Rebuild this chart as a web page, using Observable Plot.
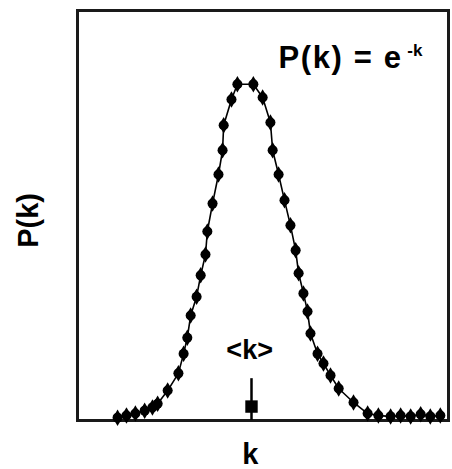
<!DOCTYPE html>
<html>
<head>
<meta charset="utf-8">
<script src="https://cdn.jsdelivr.net/npm/d3@7"></script>
<script src="https://cdn.jsdelivr.net/npm/@observablehq/plot@0.6"></script>
<style>
  html, body { margin: 0; padding: 0; background: #fff; }
  #chart { width: 452px; height: 469px; }
</style>
</head>
<body>
<div id="chart"></div>
<script>
// Degree k (arbitrary units 0–100) and P(k) (arbitrary units 0–100)
const kValues = [10.8, 13.2, 15.6, 18.1, 20.2, 21.6, 24.3, 27.2, 28.6, 29.6, 30.5, 32.1, 33.2, 34.5, 35.0, 36.4, 38.0, 39.1, 39.4, 41.5, 43.1, 47.4, 49.9, 52.0, 52.6, 54.2, 55.8, 57.4, 58.8, 59.6, 60.9, 62.0, 62.8, 64.7, 66.3, 68.2, 70.4, 74.4, 78.2, 81.1, 84.4, 87.1, 89.8, 92.5, 95.1, 97.8];
const pValues = [0.7, 1.2, 1.7, 2.4, 3.2, 4.1, 7.3, 11.5, 16.3, 20.2, 25.6, 30.2, 35.4, 40.5, 46.1, 52.9, 60.0, 65.9, 72.0, 78.3, 82.0, 82.0, 78.8, 72.7, 65.9, 60.0, 53.7, 47.6, 41.5, 35.9, 31.0, 26.6, 21.2, 16.3, 13.9, 11.0, 7.8, 4.4, 1.7, 1.2, 1.0, 1.2, 1.0, 1.5, 1.0, 1.2];

// mean degree marker
const meanK = [46.9];
const meanArrowTop = [10.2];
const meanMarkY = [3.4];

// labels
const formulaMain = ["P(k) = e"];
const formulaSup = ["-k"];
const meanLabel = ["<k>"];
const xLabel = ["k"];
const yLabel = ["P(k)"];

const points = kValues.map((k, i) => ({k, p: pValues[i]}));
const font = "'Liberation Sans', Arial, Helvetica, sans-serif";

const chart = Plot.plot({
  width: 452,
  height: 469,
  marginLeft: 77,
  marginRight: 4,
  marginTop: 10,
  marginBottom: 49,
  style: {fontFamily: font, background: "#fff", color: "#000"},
  x: {domain: [0, 100], axis: null},
  y: {domain: [0, 100], axis: null},
  marks: [
    Plot.frame({stroke: "#1a1a1a", strokeWidth: 3}),
    Plot.line(points, {x: "k", y: "p", stroke: "#000", strokeWidth: 1.6}),
    Plot.dot(points, {x: "k", y: "p", symbol: "diamond", r: 5, fill: "#000", stroke: "none"}),
    Plot.dot(points, {x: "k", y: "p", symbol: "circle", r: 5, fill: "#000", stroke: "none"}),
    Plot.dot(points, {x: "k", y: "p", symbol: "square", r: 3.8, fill: "#000", stroke: "none"}),
    Plot.ruleX(meanK, {x: d => d, y1: 0, y2: meanArrowTop[0], stroke: "#000", strokeWidth: 2.5}),
    Plot.dot(meanK, {x: d => d, y: meanMarkY[0], symbol: "square", r: 7, fill: "#000"}),
    Plot.text(formulaMain, {x: 54.2, y: 85.9, text: d => d, textAnchor: "start", lineAnchor: "bottom", fontSize: 31, fontWeight: "bold", fill: "#000"}),
    Plot.text(formulaSup, {x: 88.9, y: 88.8, text: d => d, textAnchor: "start", lineAnchor: "bottom", fontSize: 17, fontWeight: "bold", fill: "#000"}),
    Plot.text(meanLabel, {x: 46.4, y: 15.1, text: d => d, textAnchor: "middle", lineAnchor: "bottom", fontSize: 27, fontWeight: "bold", fill: "#000"}),
    Plot.text(xLabel, {x: 46.6, y: -10.5, text: d => d, textAnchor: "middle", lineAnchor: "bottom", fontSize: 29, fontWeight: "bold", fill: "#000"}),
    Plot.text(yLabel, {x: -13.2, y: 48.8, text: d => d, textAnchor: "middle", lineAnchor: "middle", rotate: -90, fontSize: 29, fontWeight: "bold", fill: "#000"})
  ]
});
// widen the formula text slightly to match the reference's letter widths
d3.select(chart).selectAll("text").filter(function() { return this.textContent === formulaMain[0]; })
  .attr("letter-spacing", "1.6px");
document.getElementById("chart").appendChild(chart);
</script>
</body>
</html>
